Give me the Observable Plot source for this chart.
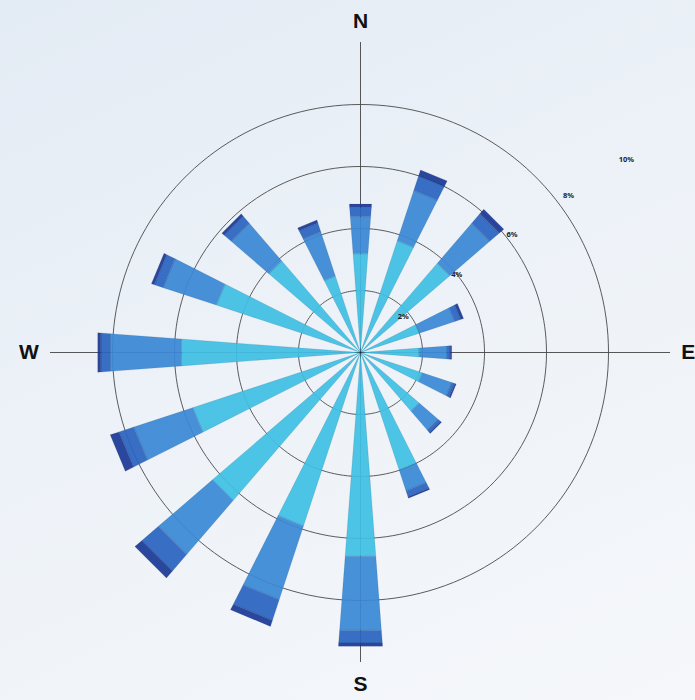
<!DOCTYPE html>
<html>
<head>
<meta charset="utf-8">
<script src="https://cdn.jsdelivr.net/npm/d3@7"></script>
<script src="https://cdn.jsdelivr.net/npm/@observablehq/plot@0.6"></script>
<style>
  html, body { margin: 0; padding: 0; }
  body {
    width: 695px; height: 700px; overflow: hidden;
    background: linear-gradient(155deg, #e3ebf4 0%, #edf2f8 45%, #f5f7fa 100%);
    font-family: "Liberation Sans", Arial, sans-serif;
  }
  #chart svg { display: block; }
</style>
</head>
<body>
<div id="chart"></div>
<script>
// ---- data (percent of time, per direction, stacked by speed bin) ----
const directions = ["N","NNE","NE","ENE","E","ESE","SE","SSE","S","SSW","SW","WSW","W","WNW","NW","NNW"];
const speedBins  = ["light", "moderate", "strong", "very strong"];
const lightWind      = [3.2, 3.8, 3.8, 2.0, 1.9, 2.1, 2.5, 4.0, 6.6, 5.9, 6.3, 5.7, 5.8, 4.9, 3.9, 2.6];
const moderateWind   = [1.2, 1.7, 1.7, 1.2, 0.9, 1.0, 0.8, 0.7, 2.4, 2.5, 2.3, 2.0, 2.3, 1.8, 1.6, 1.5];
const strongWind     = [0.3, 0.5, 0.4, 0.2, 0.1, 0.1, 0.1, 0.2, 0.4, 0.7, 0.7, 0.5, 0.3, 0.3, 0.3, 0.3];
const veryStrongWind = [0.1, 0.2, 0.2, 0.1, 0.05, 0.05, 0.05, 0.05, 0.1, 0.2, 0.3, 0.3, 0.1, 0.1, 0.1, 0.1];
const binColors = ["#40bfe3", "#3a89d5", "#2a64c0", "#1c3996"];
const ringTicks  = [2, 4, 6, 8];
const labelTicks = [2, 4, 6, 8, 10];
const cardinals  = ["N", "E", "S", "W"];

// ---- geometry helpers ----
const series = [lightWind, moderateWind, strongWind, veryStrongWind];
const step = 360 / directions.length;
const halfWidth = 4.3;              // wedge half-angle, degrees
const rad = d => d * Math.PI / 180;
const polar = (r, bearing) => ({ x: r * Math.sin(rad(bearing)), y: r * Math.cos(rad(bearing)) });

const wedges = [];
directions.forEach((dir, i) => {
  const b = i * step;
  let r0 = 0;
  series.forEach((vals, k) => {
    const r1 = r0 + vals[i];
    const id = dir + "-" + k;
    [[r0, -1], [r1, -1], [r1, 1], [r0, 1]].forEach(([r, s]) => {
      wedges.push({ id, bin: speedBins[k], ...polar(r, b + s * halfWidth) });
    });
    r0 = r1;
  });
});

const rings = ringTicks.flatMap(t => d3.range(0, 361, 2).map(a => ({ t, ...polar(t, a) })));
const axisMax = d3.max(labelTicks);
const ringLabels = labelTicks.map(t => ({ label: t + "%", ...polar(1.1 * t - 0.4, 90 - (41 - 0.5 * t)) }));
const cardinalLabels = cardinals.map((c, i) => ({ label: c, ...polar(axisMax + 0.7, i * 90) }));

// ---- layout: centre at (360, 352), 31 px per percent ----
const W = 695, H = 700, cx = 360, cy = 352, k = 31;

const chart = Plot.plot({
  width: W, height: H, margin: 0,
  x: { domain: [-cx / k, (W - cx) / k], axis: null },
  y: { domain: [-(H - cy) / k, cy / k], axis: null },
  color: { domain: speedBins, range: binColors },
  style: { background: "transparent", overflow: "visible" },
  marks: [
    Plot.ruleX([0], { y1: -axisMax, y2: axisMax, stroke: "#444", strokeWidth: 0.9 }),
    Plot.ruleY([0], { x1: -axisMax, x2: axisMax, stroke: "#444", strokeWidth: 0.9 }),
    Plot.line(rings, { x: "x", y: "y", z: "t", stroke: "#4a4a4a", strokeWidth: 0.9 }),
    Plot.line(wedges, {
      x: "x", y: "y", z: "id", fill: "bin", fillOpacity: 0.93,
      stroke: "#0d2340", strokeOpacity: 0.22, strokeWidth: 0.5,
      curve: "linear-closed"
    }),
    Plot.text(ringLabels, { x: "x", y: "y", text: "label", fontSize: 7.5, fontWeight: "bold", fill: "#222" }),
    Plot.text(cardinalLabels.filter(d => d.label !== "E"), {
      x: "x", y: "y", text: "label", fontSize: 21, fontWeight: "bold", fill: "#111",
      fontFamily: "Liberation Sans, Arial, sans-serif"
    }),
    Plot.text(cardinalLabels.filter(d => d.label === "E"), {
      x: "x", y: "y", text: "label", fontSize: 21, fontWeight: "bold", fill: "#111",
      textAnchor: "end", dx: 3,
      fontFamily: "Liberation Sans, Arial, sans-serif"
    })
  ]
});
document.getElementById("chart").append(chart);
</script>
</body>
</html>
